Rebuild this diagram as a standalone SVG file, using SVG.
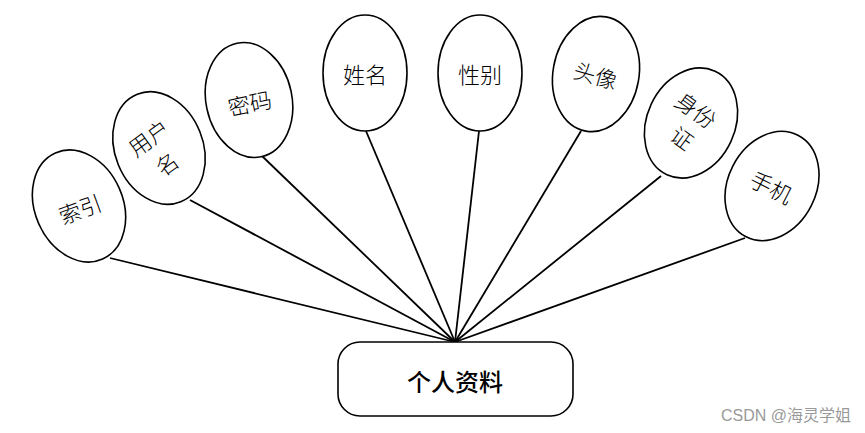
<svg xmlns="http://www.w3.org/2000/svg" width="865" height="433" viewBox="0 0 865 433">
<style>
.e{fill:#fff;stroke:#000;stroke-width:1.6}
.t{font-family:"Noto Sans CJK SC","Noto Sans CJK JP",sans-serif;font-size:22px;font-weight:300;fill:#000;text-anchor:middle;dominant-baseline:central}
.c line{stroke:#000;stroke-width:1.8}
</style>
<rect width="865" height="433" fill="#fff"/>
<g class="c" id="connectors">
<line x1="110" y1="258" x2="455" y2="342"/>
<line x1="190" y1="200" x2="455" y2="342"/>
<line x1="262" y1="156" x2="455" y2="342"/>
<line x1="366" y1="131" x2="455" y2="342"/>
<line x1="479" y1="131" x2="455" y2="342"/>
<line x1="581" y1="131" x2="455" y2="342"/>
<line x1="661" y1="176" x2="455" y2="342"/>
<line x1="745" y1="238" x2="455" y2="342"/>
</g>
<g id="n-suoyin" transform="translate(79,206) rotate(-24)">
<ellipse class="e" rx="44" ry="58"/>
<text class="t" y="2" transform="rotate(4)">索引</text>
</g>
<g id="n-yonghuming">
<ellipse class="e" rx="44" ry="58" transform="translate(159,148) rotate(-22)"/>
<text class="t" transform="translate(148,137) rotate(-36)">用户</text>
<text class="t" transform="translate(166,163) rotate(-36)">名</text>
</g>
<g id="n-mima" transform="translate(249,100) rotate(-12)">
<ellipse class="e" rx="43" ry="58"/>
<text class="t" y="2">密码</text>
</g>
<g id="n-xingming" transform="translate(365,73)">
<ellipse class="e" rx="42" ry="58"/>
<text class="t">姓名</text>
</g>
<g id="n-xingbie" transform="translate(480,73)">
<ellipse class="e" rx="42" ry="58"/>
<text class="t">性别</text>
</g>
<g id="n-touxiang" transform="translate(596,74) rotate(10)">
<ellipse class="e" rx="43" ry="58"/>
<text class="t" transform="rotate(6)">头像</text>
</g>
<g id="n-shenfenzheng">
<ellipse class="e" rx="44" ry="57" transform="translate(691,123) rotate(25)"/>
<text class="t" transform="translate(697,109) rotate(36)">身份</text>
<text class="t" transform="translate(683,137) rotate(36)">证</text>
</g>
<g id="n-shouji" transform="translate(772,186) rotate(27)">
<ellipse class="e" rx="44" ry="57"/>
<text class="t">手机</text>
</g>
<g id="n-gerenziliao">
<rect class="e" x="338" y="342" width="235" height="74" rx="22" ry="22"/>
<text class="t" x="455" y="380" style="font-size:24px;font-weight:500">个人资料</text>
</g>
<text x="851" y="421" style="font-family:'Liberation Sans','Noto Sans CJK SC',sans-serif;font-size:16px;fill:#999;text-anchor:end">CSDN @海灵学姐</text>
</svg>
